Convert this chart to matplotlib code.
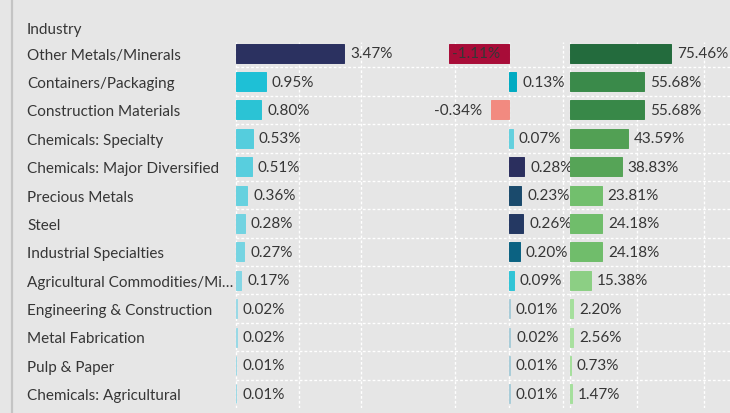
import matplotlib.pyplot as plt
import matplotlib.transforms as mtransforms
from matplotlib.lines import Line2D

plt.rcParams['font.family'] = ['Lato', 'DejaVu Sans']

industries = ["Other Metals/Minerals", "Containers/Packaging", "Construction Materials",
              "Chemicals: Specialty", "Chemicals: Major Diversified", "Precious Metals",
              "Steel", "Industrial Specialties", "Agricultural Commodities/Mi\u2026",
              "Engineering & Construction", "Metal Fabrication", "Pulp & Paper",
              "Chemicals: Agricultural"]

share = [3.47, 0.95, 0.80, 0.53, 0.51, 0.36, 0.28, 0.27, 0.17, 0.02, 0.02, 0.01, 0.01]
change = [-1.11, 0.13, -0.34, 0.07, 0.28, 0.23, 0.26, 0.20, 0.09, 0.01, 0.02, 0.01, 0.01]
coverage = [75.46, 55.68, 55.68, 43.59, 38.83, 23.81, 24.18, 24.18, 15.38, 2.20, 2.56, 0.73, 1.47]

share_colors = ["#2b3160", "#1ec0d6", "#2bc3d5", "#55cddd", "#58cede", "#66d1df", "#72d3e1",
                "#75d4e2", "#84d6e4", "#98d9e6", "#98d9e6", "#9ad9e6", "#9ad9e6"]
change_colors = ["#a80c38", "#00abc2", "#f28a80", "#63d0de", "#2b2f5e", "#1a4a6c", "#243862",
                 "#0b6282", "#30c4d6", "#a8ccd8", "#a8ccd8", "#a8ccd8", "#a8ccd8"]
coverage_colors = ["#236b3d", "#3a8a4a", "#388848", "#52a054", "#56a457", "#72bf6d", "#70bd6b",
                   "#70bd6b", "#8ccf84", "#a5df9c", "#a8e09e", "#a5df9c", "#a5df9c"]

W, H = 730, 414
BG = "#e6e6e6"
TXT = "#363636"
FS = 11
ROW = 28.38
TOP, BOTTOM = 40, 409

fig = plt.figure(figsize=(W / 100, H / 100), dpi=100)
fig.patch.set_facecolor(BG)


def px_axes(x0, x1, y0, y1):
    return fig.add_axes([x0 / W, 1 - y1 / H, (x1 - x0) / W, (y1 - y0) / H])


n = len(industries)
rows = list(range(n))

# row separators run across all three bar columns
bg = px_axes(236, W, TOP, BOTTOM)
bg.set_facecolor(BG)
bg.set_xlim(0, 1)
bg.set_ylim(n - 0.5, -0.5)
for b in range(n - 1):
    bg.axhline(b + 0.5, color="white", lw=1, ls=(0, (2, 1.5)))
bg.axis("off")

# (left px, right px, zero px, px per unit, grid ticks)
columns = [
    (233, 395, 236, 31.25, [0, 2, 4], share, share_colors),
    (420, 566, 509, 54.0, [-1, 0, 1], change, change_colors),
    (567, 730, 570, 1.335, [0, 50, 100], coverage, coverage_colors),
]

fig.canvas.draw()
renderer = fig.canvas.get_renderer()

for left, right, zero, scale, ticks, vals, cols in columns:
    ax = px_axes(left, right, TOP + 3, BOTTOM)
    ax.set_facecolor("none")
    ax.set_xlim((left - zero) / scale, (right - zero) / scale)
    ax.set_ylim(n - 0.5, -0.5 + 3 / ROW)
    ax.set_xticks(ticks)
    ax.set_yticks([])
    ax.tick_params(length=0, labelbottom=False)
    ax.grid(axis="x", color="white", lw=1, ls=(0, (2, 1.5)))
    ax.set_axisbelow(True)
    for s in ax.spines.values():
        s.set_visible(False)
    ax.barh(rows, vals, height=0.67, color=cols, edgecolor=cols, linewidth=0.7)

    right_of = mtransforms.offset_copy(ax.transData, fig=fig, x=6, y=0, units="dots")
    left_of = mtransforms.offset_copy(ax.transData, fig=fig, x=-9, y=0, units="dots")
    inside = mtransforms.offset_copy(ax.transData, fig=fig, x=3, y=0, units="dots")
    for r, v in zip(rows, vals):
        lab = f"{v:.2f}%"
        if v >= 0:
            ax.text(v, r, lab, transform=right_of, ha="left", va="center",
                    fontsize=FS, color=TXT)
        else:
            t = ax.text(v, r, lab, transform=left_of, ha="right", va="center",
                        fontsize=FS, color=TXT)
            fig.canvas.draw()
            if t.get_window_extent(renderer).x0 < ax.get_window_extent(renderer).x0:
                t.set_transform(inside)
                t.set_ha("left")

# industry names
fig.text(27 / W, 1 - 30 / H, "Industry", ha="left", va="center", fontsize=FS, color=TXT)
for r, name in enumerate(industries):
    yc = TOP + ROW * (r + 0.5) + 1.5
    fig.text(27 / W, 1 - yc / H, name, ha="left", va="center", fontsize=FS, color=TXT)

fig.add_artist(Line2D([12 / W, 12 / W], [0, 1], transform=fig.transFigure,
                      color="#c4c4c4", lw=1.6))

fig.savefig("out.png", dpi=100, facecolor=BG)
